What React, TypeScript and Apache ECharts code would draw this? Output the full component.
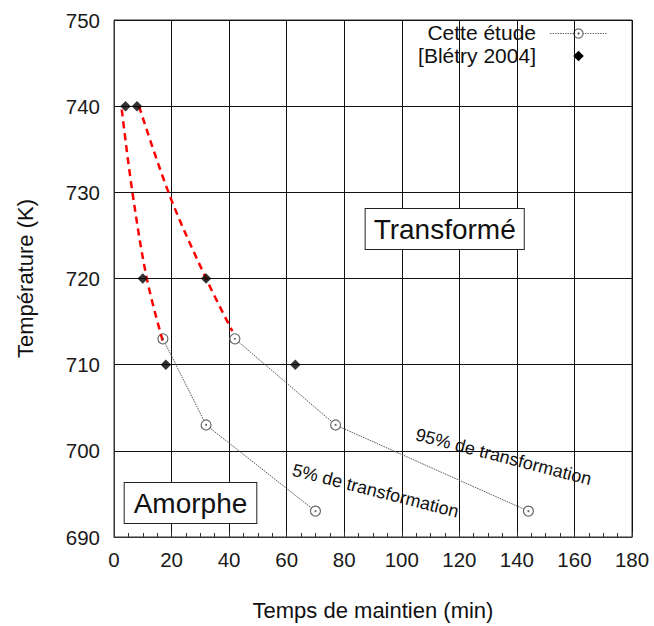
import React, { useEffect, useRef } from "react";
import * as echarts from "echarts";

// Axis ranges / ticks
const X_MIN = 0;
const X_MAX = 180;
const X_STEP = 20;
const Y_MIN = 690;
const Y_MAX = 750;
const Y_STEP = 10;

// Cette étude : 5 % and 95 % transformation (temps en min, température en K)
const temps5 = [17, 32, 70];
const temps95 = [42, 77, 144];
const temperatures = [713, 703, 693];

// [Blétry 2004]
const bletryTemps = [4, 8, 10, 32, 18, 63];
const bletryTemperatures = [740, 740, 720, 720, 710, 710];

// Red dashed extrapolated boundaries
const boundary5Temps = [2.7, 6.4, 11.4, 16.9];
const boundary5Temperatures = [739.6, 730, 720, 712.8];
const boundary95Temps = [8.7, 19.5, 32, 41.1];
const boundary95Temperatures = [740, 729.5, 720, 713.9];

const LEGEND_STUDY = "Cette étude";
const LEGEND_BLETRY = "[Blétry 2004]";

const FONT = '"Liberation Sans", Arial, Helvetica, sans-serif';

const zip = (a: number[], b: number[]) => a.map((v, i) => [v, b[i]]);

export default function App() {
  const ref = useRef<HTMLDivElement>(null);

  useEffect(() => {
    if (!ref.current) return;
    const chart = echarts.init(ref.current, undefined, { renderer: "svg" });

    const studyLine = (name: string, xs: number[]) => ({
      name,
      type: "line",
      data: zip(xs, temperatures),
      symbol: "circle",
      symbolSize: 10,
      itemStyle: { color: "#ffffff", borderColor: "#6a6a6a", borderWidth: 1.2 },
      lineStyle: { color: "#555555", width: 1, type: [1.5, 1] },
      z: 3,
    });

    const boundary = (xs: number[], ys: number[]) => ({
      type: "line",
      data: zip(xs, ys),
      smooth: 0.35,
      symbol: "none",
      lineStyle: { color: "#ff0000", width: 2.5, type: [7, 5] },
      z: 4,
      silent: true,
    });

    const option: any = {
      animation: false,
      backgroundColor: "#ffffff",
      grid: {
        left: 114,
        right: 22,
        top: 20,
        bottom: 89,
        show: true,
        borderColor: "#333333",
        borderWidth: 1,
        backgroundColor: "transparent",
      },
      xAxis: {
        type: "value",
        min: X_MIN,
        max: X_MAX,
        interval: X_STEP,
        name: "Temps de maintien (min)",
        nameLocation: "middle",
        nameGap: 62,
        nameTextStyle: { fontFamily: FONT, fontSize: 22, color: "#111" },
        axisLine: { show: true, lineStyle: { color: "#333", width: 1 } },
        axisTick: { show: true, inside: true, length: 5, lineStyle: { color: "#333" } },
        minorTick: { show: true, splitNumber: 4, length: 4, lineStyle: { color: "#333" } },
        axisLabel: { fontFamily: FONT, fontSize: 20.5, color: "#1a1a1a", margin: 12 },
        splitLine: { show: true, lineStyle: { color: "#111", width: 1 } },
      },
      yAxis: {
        type: "value",
        min: Y_MIN,
        max: Y_MAX,
        interval: Y_STEP,
        name: "Température (K)",
        nameLocation: "middle",
        nameGap: 78,
        nameTextStyle: { fontFamily: FONT, fontSize: 22, color: "#111" },
        axisLine: { show: true, lineStyle: { color: "#333", width: 1 } },
        axisTick: { show: false },
        axisLabel: { fontFamily: FONT, fontSize: 20.5, color: "#1a1a1a", margin: 14 },
        splitLine: { show: true, lineStyle: { color: "#111", width: 1 } },
      },
      series: [
        studyLine(LEGEND_STUDY, temps5),
        studyLine(LEGEND_STUDY, temps95),
        {
          type: "scatter",
          data: zip(temps5.concat(temps95), temperatures.concat(temperatures)),
          symbol: "circle",
          symbolSize: 2,
          itemStyle: { color: "#444" },
          z: 5,
          silent: true,
        },
        {
          name: LEGEND_BLETRY,
          type: "scatter",
          data: zip(bletryTemps, bletryTemperatures),
          symbol: "diamond",
          symbolSize: 10.5,
          itemStyle: { color: "#000000" },
          z: 6,
        },
        boundary(boundary5Temps, boundary5Temperatures),
        boundary(boundary95Temps, boundary95Temperatures),
      ],
      graphic: [
        // legend
        {
          type: "group",
          z: 20,
          children: [
            { type: "rect", shape: { x: 400, y: 25, width: 226, height: 40 }, style: { fill: "#ffffff" } },
            {
              type: "text",
              x: 536,
              y: 32.5,
              style: {
                text: LEGEND_STUDY,
                font: `21px ${FONT}`,
                lineHeight: 20,
                fill: "#111",
                align: "right",
                verticalAlign: "middle",
              },
            },
            {
              type: "text",
              x: 536,
              y: 55.5,
              style: {
                text: LEGEND_BLETRY,
                font: `21px ${FONT}`,
                lineHeight: 20,
                fill: "#111",
                align: "right",
                verticalAlign: "middle",
              },
            },
            {
              type: "line",
              shape: { x1: 550, y1: 33.5, x2: 607, y2: 33.5 },
              style: { stroke: "#666", lineWidth: 1, lineDash: [1.5, 1] },
            },
            {
              type: "circle",
              shape: { cx: 578.5, cy: 33.5, r: 4.6 },
              style: { fill: "#fff", stroke: "#6a6a6a", lineWidth: 1.2 },
            },
            { type: "circle", shape: { cx: 578.5, cy: 33.5, r: 1 }, style: { fill: "#444" } },
            {
              type: "polygon",
              shape: { points: [[578.5, 50.8], [583.8, 56], [578.5, 61.2], [573.2, 56]] },
              style: { fill: "#000" },
            },
          ],
        },
        // region labels
        {
          type: "text",
          x: 444.7,
          y: 229,
          z: 20,
          style: {
            text: "Transformé",
            font: `28px ${FONT}`,
            fill: "#111",
            align: "center",
            verticalAlign: "middle",
            backgroundColor: "#fff",
            borderColor: "#222",
            borderWidth: 1,
            padding: [6, 8, 6, 8],
            lineHeight: 28,
          },
        },
        {
          type: "text",
          x: 190.5,
          y: 503,
          z: 20,
          style: {
            text: "Amorphe",
            font: `28px ${FONT}`,
            fill: "#111",
            align: "center",
            verticalAlign: "middle",
            backgroundColor: "#fff",
            borderColor: "#222",
            borderWidth: 1,
            padding: [6, 9, 6, 9],
            lineHeight: 28,
          },
        },
        {
          type: "text",
          x: 503.5,
          y: 456.7,
          rotation: (-14.5 * Math.PI) / 180,
          z: 20,
          style: {
            text: "95% de transformation",
            font: `18px ${FONT}`,
            fill: "#111",
            align: "center",
            verticalAlign: "middle",
          },
        },
        {
          type: "text",
          x: 375.5,
          y: 490.7,
          rotation: (-14.3 * Math.PI) / 180,
          z: 20,
          style: {
            text: "5% de transformation",
            font: `18px ${FONT}`,
            fill: "#111",
            align: "center",
            verticalAlign: "middle",
          },
        },
      ],
    };

    chart.setOption(option);
    return () => chart.dispose();
  }, []);

  return (
    <div
      ref={ref}
      style={{ position: "fixed", left: 0, top: 0, width: 654, height: 626, background: "#fff" }}
    />
  );
}
